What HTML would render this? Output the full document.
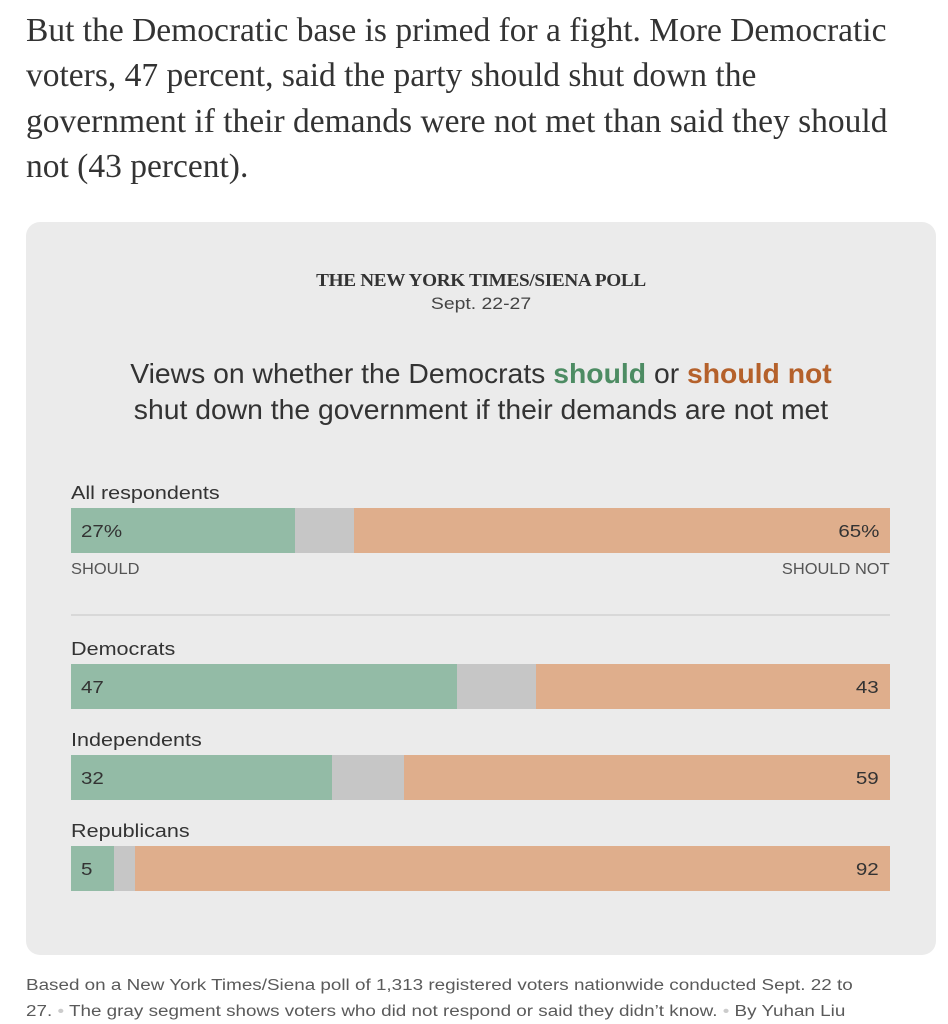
<!DOCTYPE html>
<html><head><meta charset="utf-8">
<style>
*{margin:0;padding:0;box-sizing:border-box}
body{width:948px;height:1024px;background:#fff;position:relative;overflow:hidden;font-family:"Liberation Sans",sans-serif;color:#333}
.a{position:absolute;white-space:nowrap}
.para{left:26px;font-family:"Liberation Serif",serif;font-size:33.5px;color:#333;line-height:40px}
.panel{position:absolute;left:26px;top:222px;width:910px;height:733px;background:#ebebeb;border-radius:14px}
.c{left:0;width:962px;text-align:center}
.bar{position:absolute;left:71px;width:819px;height:45px}
.bar div{position:absolute;top:0;height:45px}
.g{background:#93bba6}.y{background:#c6c6c6}.o{background:#dfae8c}
.lbl{left:71px;font-size:18.6px;color:#333;line-height:22px;transform:scaleX(1.16);transform-origin:left center}
.v{font-size:17.7px;color:#333;line-height:20px;transform:scaleX(1.16)}
.vl{left:81px;transform-origin:left center}
.vr{right:69px;transform-origin:right center}
.sm{font-size:15.5px;color:#555;line-height:16px;transform:scaleX(1.06)}
.ft{left:26px;font-size:15.5px;line-height:20px;color:#5a5a5a;transform:scaleX(1.216);transform-origin:left center}
</style></head><body>
<div class="a para" style="top:11px">But the Democratic base is primed for a fight. More Democratic</div>
<div class="a para" style="top:56px">voters, 47 percent, said the party should shut down the</div>
<div class="a para" style="top:102px">government if their demands were not met than said they should</div>
<div class="a para" style="top:147px">not (43 percent).</div>

<div class="panel"></div>
<div class="a c" style="top:269px;font-family:'Liberation Serif',serif;font-weight:bold;font-size:18px;line-height:22px;color:#333;letter-spacing:-0.3px;transform:scaleX(1.067)">THE NEW YORK TIMES/SIENA POLL</div>
<div class="a c" style="top:294px;font-size:17px;line-height:20px;color:#444;transform:scaleX(1.14)">Sept. 22-27</div>
<div class="a c" style="top:357.5px;font-size:27.5px;line-height:32px;color:#333;transform:scaleX(1.03)">Views on whether the Democrats <b style="color:#4d8c63">should</b> or <b style="color:#b5612b">should not</b></div>
<div class="a c" style="top:393.5px;font-size:27.5px;line-height:32px;color:#333;transform:scaleX(1.03)">shut down the government if their demands are not met</div>

<div class="a lbl" style="top:481.5px">All respondents</div>
<div class="bar" style="top:508px"><div class="g" style="left:0;width:224px"></div><div class="y" style="left:224px;width:59px"></div><div class="o" style="left:283px;width:536px"></div></div>
<div class="a v vl" style="top:521px">27%</div>
<div class="a v vr" style="top:521px">65%</div>
<div class="a sm" style="left:71px;top:561.5px;transform-origin:left center">SHOULD</div>
<div class="a sm" style="right:58px;top:561.5px;transform-origin:right center">SHOULD NOT</div>
<div class="a" style="left:71px;top:614px;width:819px;height:2px;background:#d8d8d8"></div>

<div class="a lbl" style="top:637.5px">Democrats</div>
<div class="bar" style="top:664px"><div class="g" style="left:0;width:386px"></div><div class="y" style="left:386px;width:79px"></div><div class="o" style="left:465px;width:354px"></div></div>
<div class="a v vl" style="top:677px">47</div>
<div class="a v vr" style="top:677px">43</div>

<div class="a lbl" style="top:728.5px">Independents</div>
<div class="bar" style="top:755px"><div class="g" style="left:0;width:261px"></div><div class="y" style="left:261px;width:72px"></div><div class="o" style="left:333px;width:486px"></div></div>
<div class="a v vl" style="top:768px">32</div>
<div class="a v vr" style="top:768px">59</div>

<div class="a lbl" style="top:819.5px">Republicans</div>
<div class="bar" style="top:846px"><div class="g" style="left:0;width:43px"></div><div class="y" style="left:43px;width:21px"></div><div class="o" style="left:64px;width:755px"></div></div>
<div class="a v vl" style="top:859px">5</div>
<div class="a v vr" style="top:859px">92</div>

<div class="a ft" style="top:975.5px">Based on a New York Times/Siena poll of 1,313 registered voters nationwide conducted Sept. 22 to</div>
<div class="a ft" style="top:1001.5px">27. <span style="color:#ccc">&#8226;</span> The gray segment shows voters who did not respond or said they didn’t know. <span style="color:#ccc">&#8226;</span> By Yuhan Liu</div>
</body></html>
